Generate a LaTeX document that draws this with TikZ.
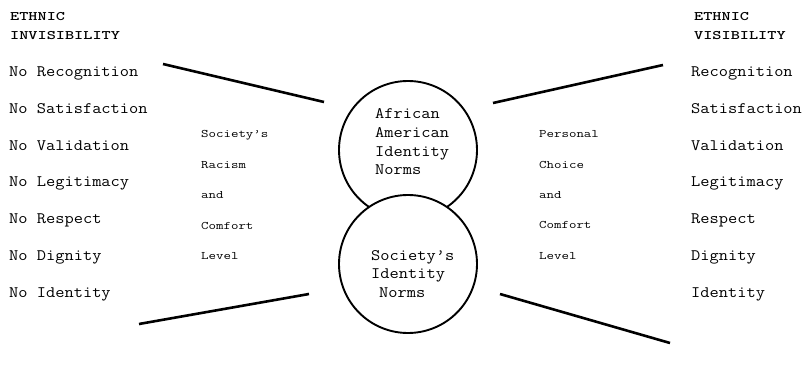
\documentclass[tikz,border=0pt]{standalone}
\usepackage{graphicx}
% typewriter text widened horizontally to the typewriter pitch of the figure
\newcommand\bodytext[1]{\scalebox{1.12}[1]{\ttfamily\fontsize{16}{19}\selectfont #1}}
\newcommand\headtext[1]{\scalebox{1.34}[1]{\ttfamily\bfseries\fontsize{13}{15}\selectfont #1}}
\newcommand\sidetext[1]{\scalebox{1.26}[1]{\ttfamily\fontsize{11.5}{13}\selectfont #1}}
\begin{document}
\begin{tikzpicture}[x=1pt,y=-1pt,
  item/.style={anchor=base west, inner sep=0pt},
  ring/.style={circle, draw, line width=1.9pt, minimum size=138pt, inner sep=0pt, outer sep=0pt},
  bar/.style={line width=2.6pt}]
\useasboundingbox (0,0) rectangle (804,369);

% the two overlapping circles; the lower one is filled so it hides the upper arc
\node[ring] (upper) at (408,150) {};
\node[ring, fill=white] (lower) at (408,264) {};

% text inside the circles
\node[item] (u1) at (375,118) {\bodytext{African}};
\node[item] (u2) at (375,137) {\bodytext{American}};
\node[item] (u3) at (375,156) {\bodytext{Identity}};
\node[item] (u4) at (375,175) {\bodytext{Norms}};
\node[item] (l1) at (371,260) {\bodytext{Society’s}};
\node[item] (l2) at (371,278.5) {\bodytext{Identity}};
\node[item] (l3) at (379,297) {\bodytext{Norms}};

% left column: ethnic invisibility
\node[item] (lh1) at (10,21) {\headtext{ETHNIC}};
\node[item] (lh2) at (10,40) {\headtext{INVISIBILITY}};
\foreach \t [count=\i from 0] in {No Recognition,No Satisfaction,No Validation,No Legitimacy,No Respect,No Dignity,No Identity}
  \node[item] (li\i) at (9,76.5+36.75*\i) {\bodytext{\t}};

% right column: ethnic visibility
\node[item] (rh1) at (694,21) {\headtext{ETHNIC}};
\node[item] (rh2) at (694,40) {\headtext{VISIBILITY}};
\foreach \t [count=\i from 0] in {Recognition,Satisfaction,Validation,Legitimacy,Respect,Dignity,Identity}
  \node[item] (ri\i) at (691,76.5+36.75*\i) {\bodytext{\t}};

% labels beside the circles
\foreach \t [count=\i from 0] in {Society’s,Racism,and,Comfort,Level}
  \node[item] (ls\i) at (201,137.5+30.6*\i) {\sidetext{\t}};
\foreach \t [count=\i from 0] in {Personal,Choice,and,Comfort,Level}
  \node[item] (rs\i) at (539,138+30.3*\i) {\sidetext{\t}};

% the four spokes
\coordinate (a1) at (163,64);  \coordinate (a2) at (324,102);
\coordinate (b1) at (139,324); \coordinate (b2) at (309,294);
\coordinate (c1) at (493,103); \coordinate (c2) at (663,65);
\coordinate (d1) at (500,294); \coordinate (d2) at (670,343);
\draw[bar] (a1) -- (a2);
\draw[bar] (b1) -- (b2);
\draw[bar] (c1) -- (c2);
\draw[bar] (d1) -- (d2);
\end{tikzpicture}
\end{document}
